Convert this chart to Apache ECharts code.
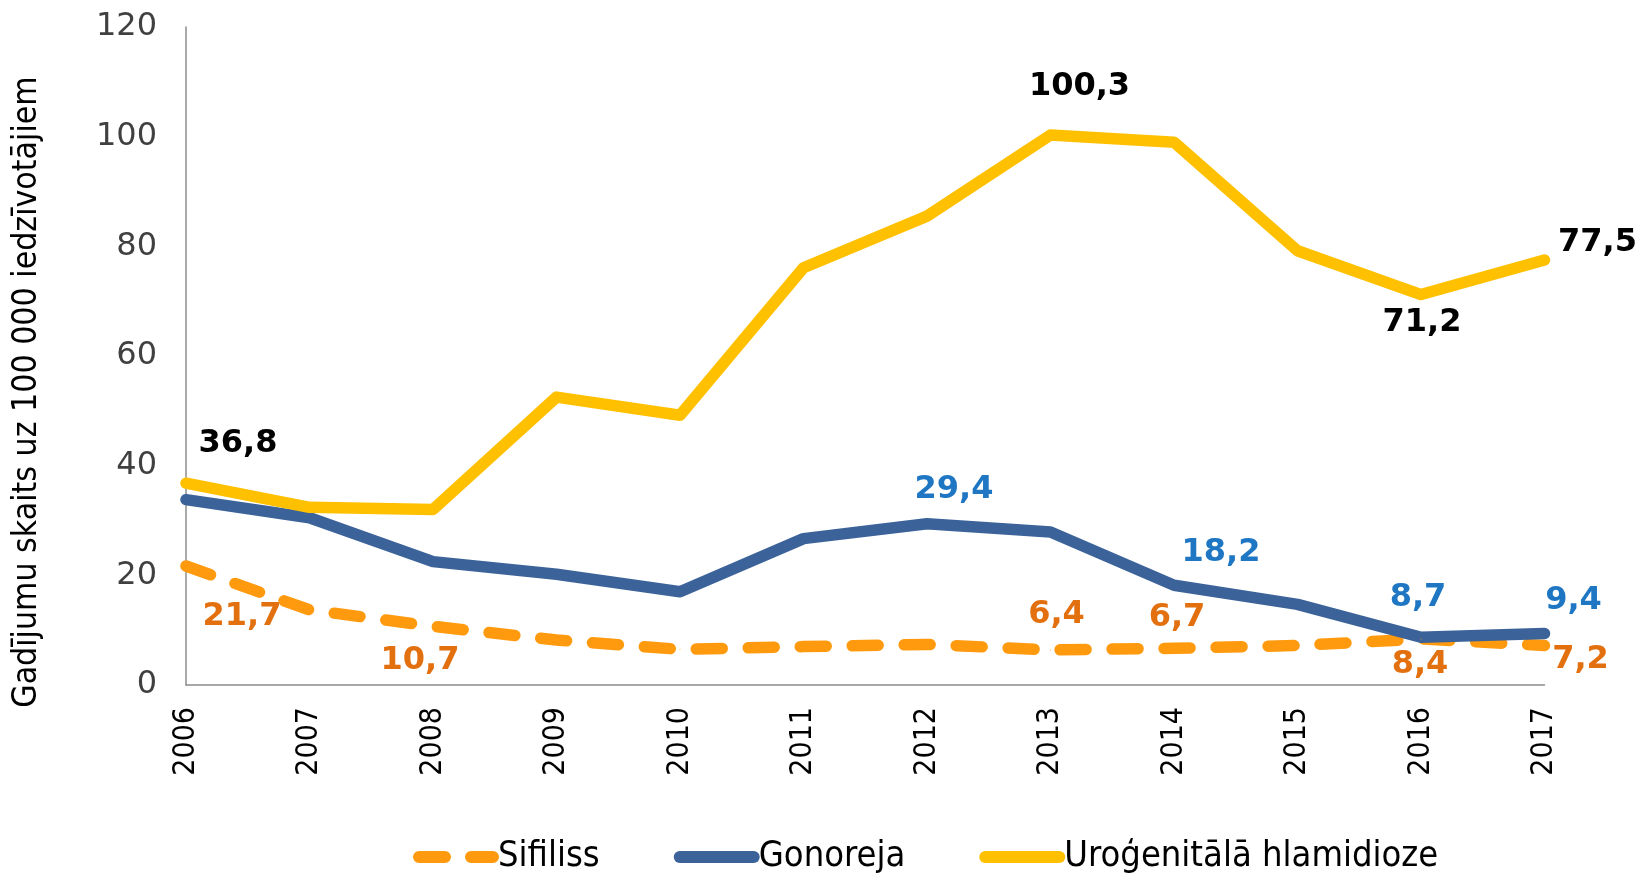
<!DOCTYPE html>
<html>
<head>
<meta charset="utf-8">
<script src="https://cdn.jsdelivr.net/npm/echarts@6/dist/echarts.min.js"></script>
<style>
  html, body { margin: 0; padding: 0; background: #fff; }
  #myChart { width: 1639px; height: 874px; }
</style>
</head>
<body>
<div id="myChart"></div>
<script>
  var years = ['2006', '2007', '2008', '2009', '2010', '2011', '2012', '2013', '2014', '2015', '2016', '2017']
  var sifiliss = [21.7, 13.7, 10.7, 8.2, 6.5, 7.0, 7.4, 6.4, 6.7, 7.2, 8.4, 7.2]
  var gonoreja = [33.8, 30.5, 22.5, 20.2, 17.0, 26.7, 29.4, 27.9, 18.2, 14.7, 8.7, 9.4]
  var hlamidioze = [36.8, 32.4, 32.0, 52.5, 49.2, 76.1, 85.5, 100.3, 99.0, 79.2, 71.2, 77.5]
  var yTicks = [0, 20, 40, 60, 80, 100, 120]

  // which points carry a label, and where (offset from the point, px)
  var sifLabels = {0: [56, 51], 2: [-13, 34], 7: [6, -35], 8: [3, -31], 10: [-1, 26], 11: [36, 14]}
  var gonLabels = {6: [27, -34], 8: [47, -33], 10: [-3, -40], 11: [29, -33]}
  var hlaLabels = {0: [52, -40], 7: [29, -48], 10: [1, 28], 11: [53, -17]}

  function withLabels (values, spots, color) {
    return values.map(function (v, i) {
      var item = {value: v}
      if (spots[i]) {
        item.label = {
          show: true,
          position: 'inside',
          offset: spots[i],
          color: color,
          fontFamily: 'DejaVu Sans, Verdana, sans-serif',
          fontWeight: 'bold',
          fontSize: 32,
          formatter: function (p) { return String(p.value).indexOf('.') < 0 ? p.value + ',0' : String(p.value).replace('.', ',') }
        }
      }
      return item
    })
  }

  var cond = '"DejaVu Sans Condensed", "Liberation Sans Narrow", sans-serif'

  var option1 = {
    animation: false,
    grid: {left: 186, right: 94.5, top: 27, bottom: 189, containLabel: false},
    legend: {
      left: 408,
      top: 834,
      itemWidth: 74,
      itemHeight: 14,
      itemGap: 74,
      itemStyle: {opacity: 0},
      lineStyle: {width: 12},
      textStyle: {fontFamily: cond, fontSize: 36, color: '#000'},
      data: ['Sifiliss', 'Gonoreja', 'Uroģenitālā hlamidioze']
    },
    xAxis: {
      type: 'category',
      data: years,
      boundaryGap: false,
      axisLine: {lineStyle: {color: '#8c8c8c', width: 1.5}},
      axisTick: {show: false},
      axisLabel: {rotate: 90, margin: 22, fontFamily: cond, fontSize: 30, color: '#000'}
    },
    yAxis: {
      type: 'value',
      min: 0,
      max: 120,
      interval: 20,
      name: 'Gadījumu skaits uz 100 000 iedzīvotājiem',
      nameLocation: 'middle',
      nameRotate: 90,
      nameGap: 142,
      nameTextStyle: {fontFamily: cond, fontSize: 33.5, color: '#000', padding: [0, 72, 0, 0]},
      axisLine: {show: true, lineStyle: {color: '#8c8c8c', width: 1.5}},
      axisTick: {show: false},
      splitLine: {show: false},
      axisLabel: {
        margin: 29,
        fontFamily: 'DejaVu Sans, Verdana, sans-serif',
        fontSize: 32,
        color: '#404040',
        formatter: function (v) { return yTicks.indexOf(v) >= 0 ? String(v) : '' }
      }
    },
    series: [
      {
        name: 'Sifiliss',
        type: 'line',
        symbol: 'circle',
        symbolSize: 1,
        color: '#FF9A0E',
        itemStyle: {color: '#FF9A0E'},
        lineStyle: {color: '#FF9A0E', width: 11.5, type: [26, 26], cap: 'round', join: 'round'},
        data: withLabels(sifiliss, sifLabels, '#E3700F')
      },
      {
        name: 'Gonoreja',
        type: 'line',
        symbol: 'circle',
        symbolSize: 1,
        color: '#3C6399',
        itemStyle: {color: '#3C6399'},
        lineStyle: {color: '#3C6399', width: 11.5, cap: 'round', join: 'round'},
        data: withLabels(gonoreja, gonLabels, '#1F77C4')
      },
      {
        name: 'Uroģenitālā hlamidioze',
        type: 'line',
        symbol: 'circle',
        symbolSize: 1,
        color: '#FFC000',
        itemStyle: {color: '#FFC000'},
        lineStyle: {color: '#FFC000', width: 11.5, cap: 'round', join: 'round'},
        data: withLabels(hlamidioze, hlaLabels, '#000')
      }
    ]
  }

  var myChart = echarts.init(document.getElementById('myChart'))
  myChart.setOption(option1)
</script>
</body>
</html>
